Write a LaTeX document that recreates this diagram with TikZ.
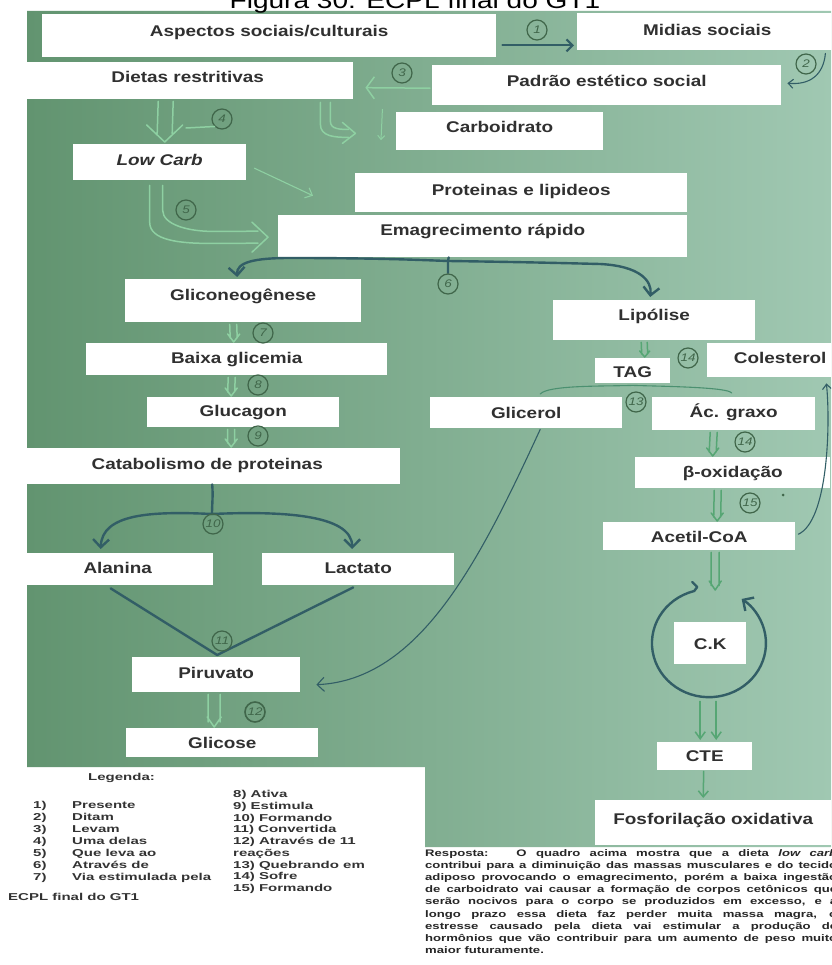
\documentclass[tikz,border=0pt]{standalone}
\usepackage{fontspec}
\setmainfont{Liberation Sans}[FakeStretch=1.22]
\newfontfamily\legfont{Liberation Sans}[FakeStretch=1.5]
\newfontfamily\resfont{Liberation Sans}[FakeStretch=1.38]
\usetikzlibrary{arrows.meta,calc}

\definecolor{boardL}{RGB}{98,148,112}
\definecolor{boardR}{RGB}{160,200,178}
\definecolor{boxtext}{RGB}{48,48,48}
\definecolor{marker}{RGB}{142,208,162}
\definecolor{markerR}{RGB}{86,166,116}
\definecolor{darkmarker}{RGB}{50,94,102}
\definecolor{numcol}{RGB}{64,102,74}

\tikzset{
  wbox/.style={anchor=north west, fill=white, inner sep=0pt,
    font=\bfseries\fontsize{15.5}{17}\selectfont, text=boxtext},
  num/.style={circle, draw=numcol, line width=1.2pt, minimum size=20pt,
    inner sep=0pt, text=numcol, font=\itshape\fontsize{11}{11}\selectfont},
  pen/.style={draw=marker, line width=1.5pt, line cap=round, line join=round},
  penR/.style={draw=markerR, line width=1.5pt, line cap=round, line join=round},
  brace/.style={draw=darkmarker, line width=2.4pt, line cap=round, line join=round},
  fine/.style={draw=darkmarker, line width=1.1pt, line cap=round},
  legtxt/.style={anchor=base west, inner sep=0pt, text=black!80,
    font=\legfont\bfseries\fontsize{10}{12}\selectfont},
}

% white box: name, left, top, width, height, baseline offset, text
\newcommand\wbox[7]{%
  \pgfmathsetmacro\bxdep{#5-#6}%
  \node[wbox, minimum width=#4pt, minimum height=#5pt, text height=#6pt,
        text depth=\bxdep pt] (#1) at (#2,#3) {#7};}

% hand-drawn double-line arrow: [style] gap, head half-width, head height, from, to
\newcommand\dblarrow[6][pen]{%
  \path #5 coordinate (dA) #6 coordinate (dB);
  \draw[#1] ($(dA)+(-#2/2,0)$) -- ($(dB)+(-#2/2,-#4/2)$)
            ($(dA)+(#2/2,0)$) -- ($(dB)+(#2/2,-#4/2)$)
            ($(dB)+(-#3,-#4)$) -- (dB) -- ($(dB)+(#3,-#4)$);}

\begin{document}
\begin{tikzpicture}[x=1pt,y=-1pt]
\clip (0,0) rectangle (831,965);
\fill[white] (0,0) rectangle (831,965);
\shade[left color=boardL, right color=boardR]
  (27,11) -- (831,11) -- (831,847) -- (425,847) -- (425,767) -- (27,767) -- cycle;

\node[anchor=base, inner sep=0pt, font=\fontsize{23}{23}\selectfont] (title)
  at (415,9) {Figura 30: ECPL final do GT1};

% ---------- boxes ----------
\wbox{asp}{42}{14}{454}{43}{22.5}{Aspectos sociais/culturais}
\wbox{mid}{577}{13}{260}{37}{22.5}{Midias sociais}
\wbox{pad}{432}{65}{349}{40}{21.5}{Padrão estético social}
\wbox{die}{22}{62}{331}{37}{20.5}{Dietas restritivas}
\wbox{car}{396}{112}{207}{38}{20.5}{Carboidrato}
\wbox{low}{73}{144}{173}{36}{21.5}{\itshape Low Carb}
\wbox{pro}{355}{173}{332}{39}{22.5}{Proteinas e lipideos}
\wbox{ema}{278}{215}{409}{42}{20.5}{Emagrecimento rápido}
\wbox{gli}{125}{279}{236}{43}{21.5}{Gliconeogênese}
\wbox{lip}{553}{300}{202}{40}{20.5}{Lipólise}
\wbox{bai}{86}{343}{301}{32}{20.5}{Baixa glicemia}
\wbox{glu}{147}{397}{192}{30}{19.5}{Glucagon}
\wbox{cat}{14}{448}{386}{36}{21.5}{Catabolismo de proteinas}
\wbox{ala}{22}{553}{191}{32}{20.5}{Alanina}
\wbox{lac}{262}{553}{192}{32}{20.5}{Lactato}
\wbox{pir}{132}{657}{168}{35}{21.5}{Piruvato}
\wbox{glc}{126}{728}{192}{29}{20.5}{Glicose}
\wbox{tag}{595}{358}{75}{25}{19.5}{TAG}
\wbox{col}{707}{343}{146}{34}{20.5}{Colesterol}
\wbox{glr}{430}{397}{192}{31}{21.5}{Glicerol}
\wbox{acg}{652}{397}{163}{33}{20.5}{Ác. graxo}
\wbox{bet}{635}{457}{195}{31}{20.5}{β-oxidação}
\wbox{ace}{603}{522}{192}{28}{20.5}{Acetil-CoA}
\wbox{ck}{674}{622}{72}{42}{27.5}{C.K}
\wbox{cte}{657}{742}{95}{28}{19.5}{CTE}
\wbox{fos}{595}{800}{236}{45}{24.5}{Fosforilação oxidativa}

% ---------- connectors ----------
% 1
\draw[brace, line width=2.2pt, -{Straight Barb[length=6pt,width=12pt]}]
  ($(asp.south east)+(6,-12)$) -- ($(mid.south west)+(-3,-5)$);
\node[num] (n1) at (537,30) {1};
% 2
\draw[fine, -{Straight Barb[length=5pt,width=9pt]}]
  ($(mid.south east)+(-12,3)$) .. controls +(-2,22) and +(22,2) .. ($(pad.east)+(6,-2)$);
\node[num] (n2) at (806,64) {2};
% 3
\draw[pen, -{Straight Barb[length=8pt,width=22pt]}]
  ($(pad.west)+(-2,3)$) -- ($(die.east)+(12,7)$);
\node[num] (n3) at (402,73) {3};
% 4
\dblarrow{15}{18}{17}{($(die.south)+(-22,2)$)}{($(low.north)+(5,-2)$)}
\node[num] (n4) at (222,119) {4};
\draw[pen] (186,128) -- (n4.south west);
% hook towards Carboidrato
\coordinate (jA) at ($(die.south east)+(-33,3)$);
\draw[pen] (jA) -- ++(0,22) .. controls +(0,12) and +(-14,0) .. ++(28,13);
\draw[pen] ($(jA)+(10,0)$) -- ++(0,19) .. controls +(0,8) and +(-8,0) .. ++(18,8);
\draw[pen] ($(jA)+(22,20)$) -- ($(jA)+(35,31)$) -- ($(jA)+(22,41)$);
\draw[pen, line width=1pt, -{Straight Barb[length=4pt,width=7pt]}]
  ($(die.south east)+(29,10)$) -- ($(car.west)+(-15,9)$);
% Low Carb to Proteinas
\draw[pen, line width=1.1pt, -{Straight Barb[length=6pt,width=11pt]}]
  ($(low.east)+(8,6)$) -- ($(pro.west)+(-42,3)$);
% 5
\coordinate (fA) at ($(low.south)+(-10,5)$);
\draw[pen] (fA) -- ++(0,37) .. controls +(0,18) and +(-30,0) .. ++(60,21) -- ($(ema.west)+(-20,7)$);
\draw[pen] ($(fA)+(13,0)$) -- ++(0,25) .. controls +(0,14) and +(-25,0) .. ++(50,21) -- ($(ema.west)+(-20,-5)$);
\draw[pen] ($(ema.west)+(-26,-14)$) -- ($(ema.west)+(-10,1)$) -- ($(ema.west)+(-26,16)$);
\node[num] (n5) at (186,210) {5};
% 6
\coordinate (c6) at (448,261);
\draw[brace, {Straight Barb[length=8pt,width=16pt]}-{Straight Barb[length=8pt,width=16pt]}]
  ($(gli.north)+(-6,-2)$) .. controls +(-1,-15) and +(-35,0) .. (290,258)
  .. controls (380,258) and (420,260) .. (c6)
  .. controls (520,262) and (560,263) .. (600,264)
  .. controls +(40,2) and +(2,-16) .. ($(lip.north)+(-4,-3)$);
\draw[brace] ($(ema.south)+(-34,0)$) -- (c6) -- ++(0,12);
\node[num] (n6) at (448,284) {6};
% 7, 8, 9
\dblarrow{7}{6}{8}{($(gli.south)+(-10,2)$)}{($(bai.north)+(-3,-1)$)}
\dblarrow{7}{6}{8}{($(bai.south)+(-5,2)$)}{($(glu.north)+(-12,-1)$)}
\dblarrow{7}{6}{8}{($(glu.south)+(-12,2)$)}{($(cat.north)+(24,-1)$)}
\node[num] (n7) at (263,333) {7};
\node[num] (n8) at (258,385) {8};
\node[num] (n9) at (258,436) {9};
% 10
\coordinate (c10) at (212,514);
\draw[brace] ($(cat.south)+(5,0)$) .. controls +(1,12) and +(0,-10) .. (c10);
\draw[brace, -{Straight Barb[length=8pt,width=16pt]}]
  (c10) .. controls (150,511) and (102,514) .. ($(ala.north)+(-17,-4)$);
\draw[brace, -{Straight Barb[length=8pt,width=16pt]}]
  (c10) .. controls (280,511) and (352,514) .. ($(lac.north)+(-6,-4)$);
\node[num] (n10) at (213,524) {10};
% 11
\draw[brace] ($(ala.south)+(-7,3)$) -- ($(pir.north)+(1,-2)$) -- ($(lac.south)+(-5,2)$);
\node[num] (n11) at (222,641) {11};
% Glicerol to Piruvato
\draw[fine, -{Straight Barb[length=7pt,width=14pt]}]
  ($(glr.south)+(14,1)$) .. controls (480,560) and (420,680) .. ($(pir.east)+(16,10)$);
% 12
\dblarrow{12}{7}{10}{($(pir.south)+(-2,2)$)}{($(glc.north)+(-8,-1)$)}
\node[num, line width=1.6pt] (n12) at (255,712) {12};
% Lipolise to TAG
\dblarrow[penR]{6}{5}{6}{($(lip.south)+(-10,2)$)}{($(tag.north)+(12,-1)$)}
\node[num] (n14a) at (688,358) {14};
% 13
\coordinate (c13) at ($(tag.south)+(0,2)$);
\draw[fine, draw=markerR!70!darkmarker]
  ($(glr.north)+(14,-3)$) .. controls +(8,-9) and +(-30,1) .. (c13)
  .. controls +(30,1) and +(-4,-6) .. ($(acg.north)+(-2,-4)$);
\node[num] (n13) at (636,402) {13};
% 14
\dblarrow[penR]{7}{6}{8}{($(acg.south)+(-20,2)$)}{($(bet.north)+(-20,-1)$)}
\node[num] (n14) at (745,442) {14};
% 15
\dblarrow[penR]{7}{6}{8}{($(bet.south)+(-15,2)$)}{($(ace.north)+(18,-1)$)}
\node[num] (n15) at (750,503) {15};
\fill[numcol] (783,495) circle (1.5);
% Acetil-CoA to Colesterol
\draw[fine, -{Straight Barb[length=5pt,width=9pt]}]
  ($(ace.east)+(3,-2)$) .. controls +(30,-14) and +(4,40) .. ($(col.south east)+(-27,6)$);
% Acetil-CoA into the cycle
\dblarrow[penR]{8}{6}{9}{($(ace.south)+(16,2)$)}{($(ck.north)+(5,-32)$)}
% Krebs cycle
\draw[brace, -{Straight Barb[length=8pt,width=16pt]}]
  ($(ck.north)+(-18,-40)$) -- ($(ck.north)+(-13,-35)$) -- ($(ck.north)+(-16,-31)$)
  arc[start angle=105, end angle=415, x radius=57pt, y radius=54pt];
% cycle to CTE
\draw[penR, -{Straight Barb[length=7pt,width=10pt]}]
  ($(ck.south)+(-10,37)$) -- ($(cte.north)+(-4.5,-2)$);
\draw[penR, -{Straight Barb[length=7pt,width=10pt]}]
  ($(ck.south)+(6,37)$) -- ($(cte.north)+(11.5,-2)$);
% CTE to Fosforilacao
\draw[penR, -{Straight Barb[length=6pt,width=10pt]}]
  ($(cte.south)+(-1,1)$) -- ($(fos.north)+(-10,-2)$);

% ---------- legend ----------
\node[legtxt] (leghead) at (88,780.5) {Legenda:};
\foreach \t [count=\i] in {Presente,Ditam,Levam,Uma delas,Que leva ao,Através de,Via estimulada pela}
  \node[legtxt] (legL\i) at (33,{808.5+12*(\i-1)}) {\makebox[39pt][l]{\i)}\t};
\node[legtxt] (ecpl) at (8,900.5) {ECPL final do GT1};
\foreach \t [count=\i] in {8) Ativa,9) Estimula,10) Formando,11) Convertida,12) Através de 11,reações,13) Quebrando em,14) Sofre,15) Formando}
  \node[legtxt] (legR\i) at (233,{797.5+11.75*(\i-1)}) {\t};

% ---------- answer ----------
\node[anchor=north west, inner sep=0pt, text width=412pt, align=justify,
      font=\resfont\bfseries\fontsize{9.5}{12.2}\selectfont, text=black!85] (resp) at (425,849)
 {Resposta:\ \ \ O quadro acima mostra que a dieta \textit{low carb}\linebreak
  contribui para a diminuição das massas musculares e do tecido\linebreak
  adiposo provocando o emagrecimento, porém a baixa ingestão\linebreak
  de carboidrato vai causar a formação de corpos cetônicos que\linebreak
  serão nocivos para o corpo se produzidos em excesso, e a\linebreak
  longo prazo essa dieta faz perder muita massa magra, o\linebreak
  estresse causado pela dieta vai estimular a produção de\linebreak
  hormônios que vão contribuir para um aumento de peso muito\linebreak
  maior futuramente.};
\end{tikzpicture}
\end{document}
